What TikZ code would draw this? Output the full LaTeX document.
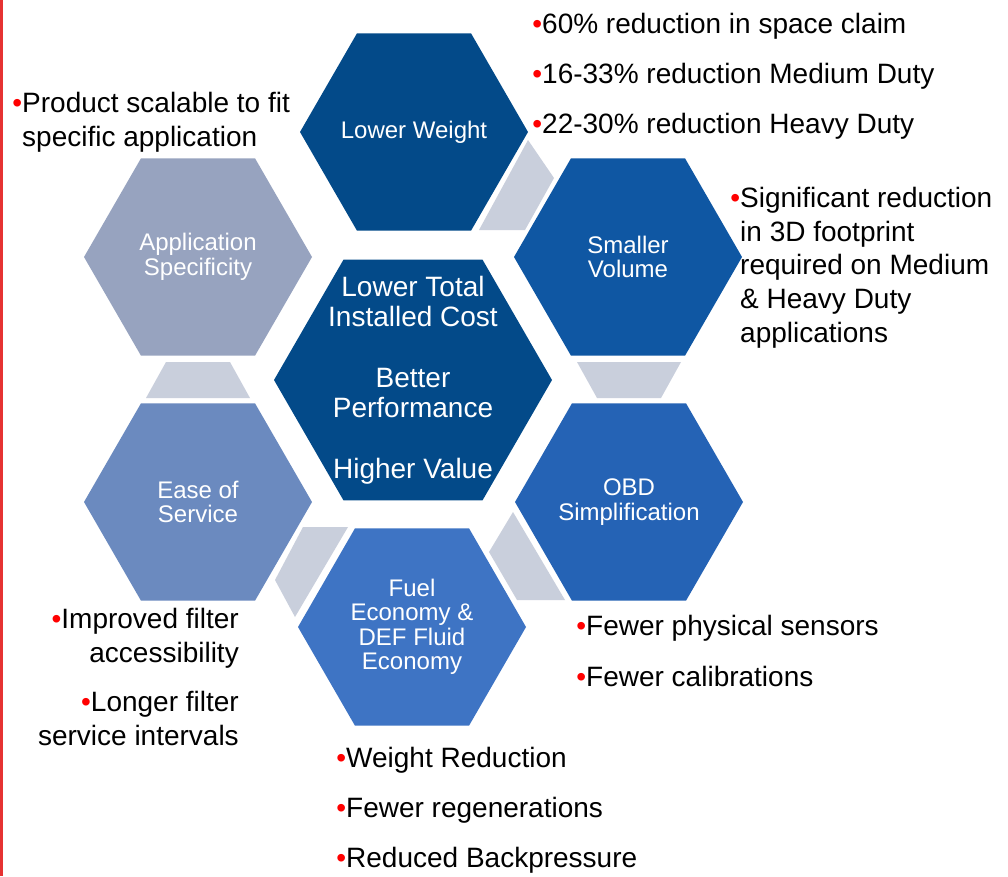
\documentclass[tikz,border=0pt]{standalone}
\usepackage{fontspec}
\setmainfont{Liberation Sans}
\usepackage{xcolor}
\usepackage{tikz}
\usetikzlibrary{shapes.geometric, positioning}

\definecolor{navy}{RGB}{3,74,137}
\definecolor{volblue}{RGB}{15,87,163}
\definecolor{obdblue}{RGB}{37,99,181}
\definecolor{fuelblue}{RGB}{62,116,196}
\definecolor{easeblue}{RGB}{107,138,191}
\definecolor{appgray}{RGB}{151,163,191}
\definecolor{connfill}{RGB}{201,207,220}
\definecolor{bulred}{RGB}{255,0,0}
\definecolor{edgered}{RGB}{230,50,50}

\tikzstyle{hexbox}   = [regular polygon, regular polygon sides=6, minimum size=228pt,
                        inner sep=0pt, outer sep=0pt, draw=none]
\tikzstyle{hexlbl}   = [text=white, align=center, inner sep=0pt,
                        font=\fontsize{24}{24.5}\selectfont]
\tikzstyle{point}    = [align=left, inner sep=0pt, anchor=base west,
                        font=\fontsize{28}{33.6}\selectfont]
\tikzstyle{rpoint}   = [align=right, inner sep=0pt, anchor=base east,
                        font=\fontsize{28}{33.6}\selectfont]
\tikzstyle{conn}     = [fill=connfill]

\newcommand{\bul}{\llap{\textcolor{bulred}{•}}}
\newcommand{\ibul}{\textcolor{bulred}{•}}

\begin{document}
\begin{tikzpicture}[x=1pt, y=-1pt]

  \useasboundingbox (0,0) rectangle (1008,876);
  \fill[white] (0,0) rectangle (1008,876);
  \draw[edgered, line width=3pt] (1.5,0) -- (1.5,876);

  % hexagon cluster
  \node[hexbox, fill=navy, minimum size=278pt] (core) at (413,380) {};
  \node[hexbox, fill=navy]     (lw)   at (414,132) {};
  \node[hexbox, fill=volblue]  (sv)   at (628,257) {};
  \node[hexbox, fill=obdblue]  (obd)  at (629,502) {};
  \node[hexbox, fill=fuelblue] (fuel) at (412,627) {};
  \node[hexbox, fill=easeblue] (ease) at (198,502) {};
  \node[hexbox, fill=appgray]  (app)  at (198,257) {};

  % gray links between neighbours
  \fill[conn] (528,140) -- (554,178) -- (525,230) -- (479,230) -- cycle;
  \fill[conn] (577,362) -- (681,362) -- (661,398) -- (597,398) -- cycle;
  \fill[conn] (513,512) -- (489,552) -- (517,600) -- (565,600) -- cycle;
  \fill[conn] (303,527) -- (348,527) -- (295,617) -- (275,580) -- cycle;
  \fill[conn] (166,362) -- (230,362) -- (250,398) -- (146,398) -- cycle;

  \node[hexlbl, font=\fontsize{28}{30}\selectfont] (corelbl) at (core)
      {Lower Total\\Installed Cost\\[31pt]Better\\Performance\\[31pt]Higher Value};
  \node[hexlbl] (lwlbl)   at (lw)   {Lower Weight};
  \node[hexlbl] (svlbl)   at (sv)   {Smaller\\Volume};
  \node[hexlbl] (obdlbl)  at (obd)  {OBD\\Simplification};
  \node[hexlbl] (fuellbl) at (fuel) {Fuel\\Economy \&\\DEF Fluid\\Economy};
  \node[hexlbl] (easelbl) at (ease) {Ease of\\Service};
  \node[hexlbl] (applbl)  at (app)  {Application\\Specificity};

  % bullet points (base = last line)
  \node[point] (lw1) at (542,33)  {\bul 60\% reduction in space claim};
  \node[point] (lw2) at (542,83)  {\bul 16-33\% reduction Medium Duty};
  \node[point] (lw3) at (542,133) {\bul 22-30\% reduction Heavy Duty};

  \node[point] (sv1) at (740,342)
      {\bul Significant reduction\\in 3D footprint\\required on Medium\\\& Heavy Duty\\applications};

  \node[point] (app1) at (22,146) {\bul Product scalable to fit\\specific application};

  \node[rpoint] (ease1) at (239,662) {\ibul Improved filter\\accessibility};
  \node[rpoint] (ease2) at (239,745) {\ibul Longer filter\\service intervals};

  \node[point] (obd1) at (586,635) {\bul Fewer physical sensors};
  \node[point] (obd2) at (586,686) {\bul Fewer calibrations};

  \node[point] (fuel1) at (346,767) {\bul Weight Reduction};
  \node[point] (fuel2) at (346,817) {\bul Fewer regenerations};
  \node[point] (fuel3) at (346,867) {\bul Reduced Backpressure};

\end{tikzpicture}
\end{document}
